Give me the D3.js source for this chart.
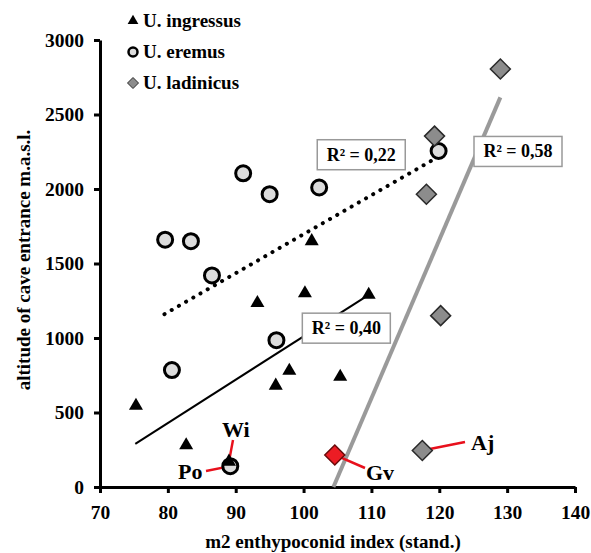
<!DOCTYPE html>
<html>
<head>
<meta charset="utf-8">
<script src="https://cdn.jsdelivr.net/npm/d3@7/dist/d3.min.js"></script>
<style>
  body { margin: 0; background: #fff; }
  svg { display: block; font-family: "Liberation Serif", "Times New Roman", serif; font-weight: bold; }
</style>
</head>
<body>
<div id="chart"></div>
<script>
const width = 591;
const height = 553;

// U. ingressus (triangles)
const ingressus = [
  [75.3, 545], [82.7, 280], [89, 170], [93.2, 1235], [100.2, 1300], [101.2, 1650],
  [109.6, 1290], [95.9, 680], [97.9, 780], [105.4, 740]
];
// U. eremus (circles)
const eremus = [
  [79.6, 1660], [83.4, 1650], [91.1, 2105], [95, 1965], [102.3, 2010],
  [86.5, 1420], [96, 985], [80.6, 785], [119.9, 2255], [89.2, 140]
];
// U. ladinicus (diamonds)
const ladinicus = [
  [129, 2805], [119.3, 2355], [118.1, 1965], [120.2, 1150], [117.5, 245]
];
const gv = [[104.6, 215]];

// trend lines [x0, y0, x1, y1]
const trendIngressus = [75.2, 290, 109.6, 1290];
const trendEremus = [79.5, 1160, 120, 2220];
const trendLadinicus = [104.4, 0, 129, 2615];

const r2Labels = ["R² = 0,22", "R² = 0,40", "R² = 0,58"];
const xTicks = [70, 80, 90, 100, 110, 120, 130, 140];
const yTicks = [0, 500, 1000, 1500, 2000, 2500, 3000];
const legendLabels = ["U. ingressus", "U. eremus", "U. ladinicus"];
const pointNames = ["Wi", "Po", "Gv", "Aj"];

const svg = d3.select("#chart")
  .append("svg")
  .attr("width", width)
  .attr("height", height);

const x = d3.scaleLinear().domain([70, 140]).range([100, 575]);
const y = d3.scaleLinear().domain([0, 3000]).range([487, 40]);

// axes
const xAxis = svg.append("g")
  .attr("transform", `translate(0, ${y(0)})`)
  .call(d3.axisBottom(x).tickValues(xTicks).tickFormat(d3.format("d"))
    .tickSize(6).tickSizeOuter(0).tickPadding(12));
const yAxis = svg.append("g")
  .attr("transform", `translate(${x(70)}, 0)`)
  .call(d3.axisLeft(y).tickValues(yTicks).tickFormat(d3.format("d"))
    .tickSize(6).tickSizeOuter(0).tickPadding(10));

[xAxis, yAxis].forEach(a => {
  a.attr("font-family", null).attr("font-size", null);
  a.select(".domain").attr("stroke", "#000").attr("stroke-width", 3);
  a.selectAll(".tick line").attr("stroke", "#000").attr("stroke-width", 3);
  a.selectAll(".tick text")
    .attr("fill", "#000")
    .style("font-size", "19.5px");
});

svg.append("text")
  .attr("x", 333)
  .attr("y", 548)
  .attr("text-anchor", "middle")
  .style("font-size", "19px")
  .text("m2 enthypoconid index (stand.)");

svg.append("text")
  .attr("transform", "translate(30, 260) rotate(-90)")
  .attr("text-anchor", "middle")
  .style("font-size", "19px")
  .text("altitude of cave entrance m.a.s.l.");

// trend lines
const lines = svg.append("g");
lines.append("line")
  .attr("x1", x(trendLadinicus[0])).attr("y1", y(trendLadinicus[1]))
  .attr("x2", x(trendLadinicus[2])).attr("y2", y(trendLadinicus[3]))
  .attr("stroke", "#9a9a9a").attr("stroke-width", 4);
lines.append("line")
  .attr("x1", x(trendIngressus[0])).attr("y1", y(trendIngressus[1]))
  .attr("x2", x(trendIngressus[2])).attr("y2", y(trendIngressus[3]))
  .attr("stroke", "#000").attr("stroke-width", 2);
lines.append("line")
  .attr("x1", x(trendEremus[0])).attr("y1", y(trendEremus[1]))
  .attr("x2", x(trendEremus[2])).attr("y2", y(trendEremus[3]))
  .attr("stroke", "#000").attr("stroke-width", 4)
  .attr("stroke-linecap", "round")
  .attr("stroke-dasharray", "0.1 8.2");

// R² boxes (anchor in data coordinates)
const r2Pos = [[108.5, 2230], [106.3, 1066], [131.6, 2252]];
r2Labels.forEach((t, i) => {
  const g = svg.append("g")
    .attr("transform", `translate(${x(r2Pos[i][0])}, ${y(r2Pos[i][1])})`);
  g.append("rect")
    .attr("x", -44).attr("y", -15)
    .attr("width", 88).attr("height", 30)
    .attr("fill", "#fff")
    .attr("stroke", "#999")
    .attr("stroke-width", 1.5);
  g.append("text")
    .attr("text-anchor", "middle")
    .attr("y", 6)
    .style("font-size", "18px")
    .text(t);
});

// red leader lines to named points
const leaders = [
  { name: "Wi", from: [89, 170], to: [233, 440], tx: 222, ty: 437 },
  { name: "Po", from: [89.2, 140], to: [206, 471], tx: 178, ty: 479 },
  { name: "Gv", from: [104.6, 215], to: [365, 468], tx: 366, ty: 480 },
  { name: "Aj", from: [117.5, 245], to: [465, 442], tx: 471, ty: 450 }
];
leaders.forEach(d => {
  svg.append("line")
    .attr("x1", x(d.from[0])).attr("y1", y(d.from[1]))
    .attr("x2", d.to[0]).attr("y2", d.to[1])
    .attr("stroke", "#e8101c").attr("stroke-width", 2.5);
});

const triangle = d3.symbol().type(d3.symbolTriangle).size(85);
const diamond = s => `M0,${-s}L${s},0L0,${s}L${-s},0Z`;

// markers
svg.append("g").selectAll("circle")
  .data(eremus)
  .enter().append("circle")
  .attr("cx", d => x(d[0])).attr("cy", d => y(d[1]))
  .attr("r", 7.5)
  .attr("fill", "#dcdcdc")
  .attr("stroke", "#000")
  .attr("stroke-width", 3);

svg.append("g").selectAll("path")
  .data(ingressus)
  .enter().append("path")
  .attr("d", triangle)
  .attr("transform", d => `translate(${x(d[0])}, ${y(d[1])})`)
  .attr("fill", "#000");

svg.append("g").selectAll("path")
  .data(ladinicus)
  .enter().append("path")
  .attr("d", diamond(10))
  .attr("transform", d => `translate(${x(d[0])}, ${y(d[1])})`)
  .attr("fill", "#8c8c8c")
  .attr("stroke", "#2a2a2a")
  .attr("stroke-width", 1.5);

svg.append("g").selectAll("path")
  .data(gv)
  .enter().append("path")
  .attr("d", diamond(10))
  .attr("transform", d => `translate(${x(d[0])}, ${y(d[1])})`)
  .attr("fill", "#ec1c24")
  .attr("stroke", "#6a0a0a")
  .attr("stroke-width", 1.5);

leaders.forEach((d, i) => {
  svg.append("text")
    .attr("x", d.tx).attr("y", d.ty)
    .style("font-size", "22px")
    .text(pointNames[i]);
});

// legend
const legend = svg.append("g").attr("transform", "translate(133, 0)");
const legendY = [21, 52, 83];
legendLabels.forEach((t, i) => {
  const g = legend.append("g").attr("transform", `translate(0, ${legendY[i]})`);
  if (i === 0) {
    g.append("path").attr("d", d3.symbol().type(d3.symbolTriangle).size(50)).attr("fill", "#000");
  } else if (i === 1) {
    g.append("circle").attr("r", 4.5).attr("fill", "#dcdcdc").attr("stroke", "#000").attr("stroke-width", 2.5);
  } else {
    g.append("path").attr("d", diamond(5.5)).attr("fill", "#8c8c8c").attr("stroke", "#2a2a2a").attr("stroke-width", 1);
  }
  g.append("text")
    .attr("x", 10)
    .attr("y", 6)
    .style("font-size", "19px")
    .text(t);
});
</script>
</body>
</html>
